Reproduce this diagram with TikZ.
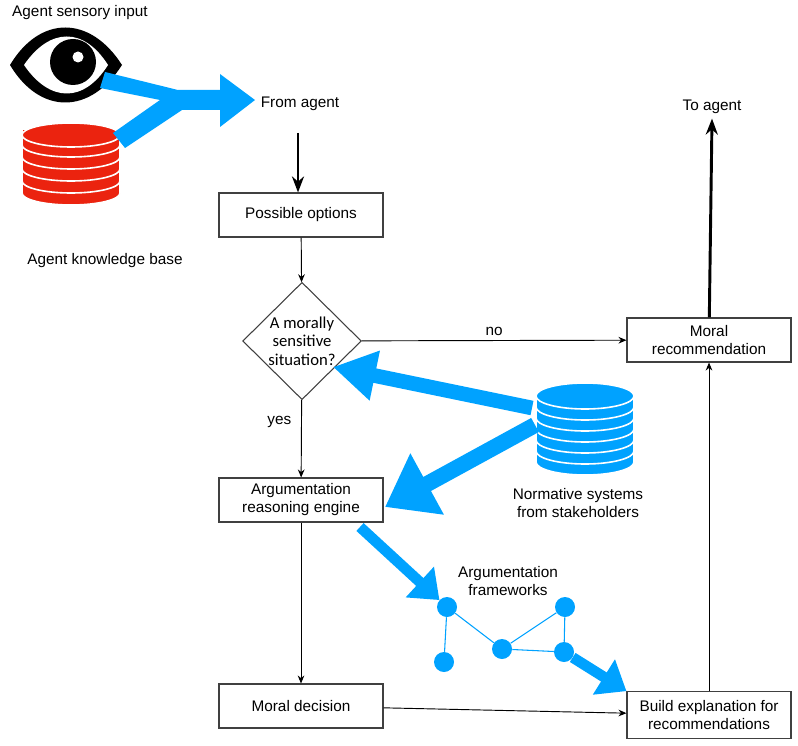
\documentclass[tikz,border=0pt]{standalone}
\usepackage{fontspec}
\setmainfont{Liberation Sans}
\newfontfamily\carlitofont{Carlito}
\usetikzlibrary{shapes.geometric,arrows.meta}
\definecolor{ab}{RGB}{0,162,255}
\definecolor{ar}{RGB}{235,35,15}
\begin{document}
\begin{tikzpicture}[x=0.75pt,y=-0.75pt,
  box/.style={draw=black!75,line width=0.8pt,minimum width=123pt,minimum height=33pt,align=center,font=\fontsize{11.5}{13.5}\selectfont,inner sep=2pt},
  lbl/.style={align=center,font=\fontsize{11.5}{13.5}\selectfont},
  thin/.style={->,>={Stealth[length=6pt,width=5pt]},line width=0.7pt},
  thick/.style={->,>={Stealth[length=12pt,width=9pt]},line width=2.2pt},
  fat/.style={ab,line width=#1,-{Triangle[length=22pt,width=38pt]}},
  gn/.style={circle,fill=ab,minimum size=15pt,inner sep=0pt},
  ge/.style={ab,line width=0.8pt}]
\useasboundingbox (0,0) rectangle (798,745);
% eye
\fill (10,65) .. controls (40,15) and (90,15) .. (122,65) .. controls (90,115) and (40,115) .. (10,65);
\fill[white] (24,65) .. controls (50,27) and (84,27) .. (108,65) .. controls (84,103) and (50,103) .. (24,65);
\fill (73,62) circle (23);
\fill[white] (78,57) circle (5.5);
% red db
\foreach \b in {193,181,169,157,145}{
  \filldraw[fill=ar,draw=white,line width=1.2pt] (22,\b-16) -- (22,\b) arc(180:0:49 and 12) -- (120,\b-16) -- cycle;}
\filldraw[fill=ar,draw=white,line width=1.2pt] (71,135) ellipse (49 and 12);
% blue db
\foreach \b in {462,451,440,429,418,407}{
  \filldraw[fill=ab,draw=white,line width=1.2pt] (536,\b-14) -- (536,\b) arc(180:0:49 and 13) -- (634,\b-14) -- cycle;}
\filldraw[fill=ab,draw=white,line width=1.2pt] (585,396) ellipse (49 and 13);
% labels
\node[lbl] (tin) at (80,13) {Agent sensory input};
\node[lbl] (tkb) at (105,261) {Agent knowledge base};
\node[lbl] (from) at (300,104) {From agent};
\node[lbl] (to) at (712,107) {To agent};
\node[lbl] (norm) at (578,503) {Normative systems\\from stakeholders};
\node[lbl] (afw) at (508,581) {Argumentation\\frameworks};
% boxes
\node[box] (opt) at (301,215) {Possible options};
\node[diamond,draw=black!75,line width=0.8pt,minimum width=89pt,minimum height=88pt,inner sep=0pt,align=center,font=\carlitofont\fontsize{12.5}{14}\selectfont] (dia) at (302,341) {A morally\\sensitive\\situation?};
\node[box,minimum height=33pt] (rec) at (709,340) {Moral\\recommendation};
\node[box] (eng) at (301,500) {Argumentation\\reasoning engine};
\node[box] (dec) at (301,706) {Moral decision};
\node[box,minimum height=35pt] (exp) at (709,715) {Build explanation for\\recommendations};
% graph
\node[gn] (g1) at (447,607) {};
\node[gn] (g2) at (444,662) {};
\node[gn] (g3) at (502,649) {};
\node[gn] (g4) at (565,607) {};
\node[gn] (g5) at (564,652) {};
\draw[ge] (g1)--(g2) (g1)--(g3) (g3)--(g4) (g3)--(g5) (g4)--(g5);
% blue arrows
\fill[ab] (105,72) -- (178,90) -- (220,90) -- (220,74) -- (255,100) -- (220,127) -- (220,110) -- (182,110) -- (125,148) -- (113,133) -- (160,100) -- (100,88) -- cycle;
\coordinate (n1) at (532,408);
\coordinate (n2) at (535,425);
\coordinate (t1) at (333,367);
\draw[fat=11pt,-{Triangle[length=32pt,width=36pt]}] (n1) -- (t1);
\draw[fat=12pt,-{Triangle[length=36pt,width=50pt]}] (n2) -- (385,507);
\coordinate (e1) at (360,527);
\draw[fat=8pt,-{Triangle[length=20pt,width=30pt]}] (e1) -- (g1);
\draw[fat=8pt,-{Triangle[length=20pt,width=30pt]}] (g5) -- (exp.north west);
% black arrows
\coordinate (fa) at (298,133);
\draw[thick] (fa) -- (fa |- opt.north);
\draw[thin] (opt) -- (dia);
\draw[thin] (dia) -- node[lbl,above,pos=0.5]{no} (rec);
\draw[thin] (dia) -- node[lbl,left,pos=0.28,xshift=-4pt]{yes} (eng);
\draw[thin] (eng) -- (dec);
\draw[thin] (dec) -- (exp);
\draw[thin] (exp) -- (rec);
\draw[thick] (rec) -- (to.south);
\end{tikzpicture}
\end{document}
